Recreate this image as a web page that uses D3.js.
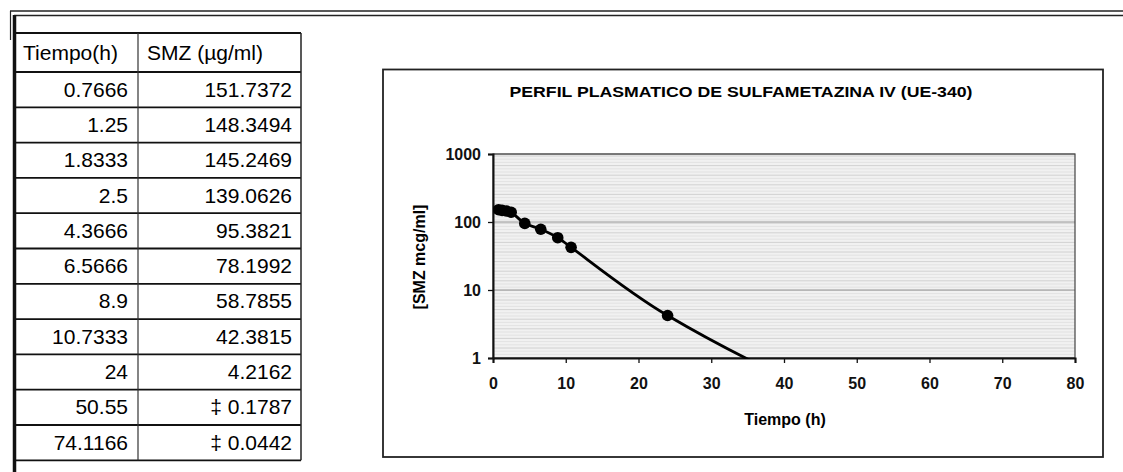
<!DOCTYPE html>
<html><head><meta charset="utf-8">
<script src="https://cdn.jsdelivr.net/npm/d3@7"></script>
<style>body{margin:0;background:#fff}svg{display:block}text{font-family:"Liberation Sans",Arial,sans-serif}</style>
</head><body>
<svg id="c" width="1123" height="472"></svg>
<script>
const tiempo = [0.7666, 1.25, 1.8333, 2.5, 4.3666, 6.5666, 8.9, 10.7333, 24, 50.55, 74.1166];
const smz = [151.7372, 148.3494, 145.2469, 139.0626, 95.3821, 78.1992, 58.7855, 42.3815, 4.2162, 0.1787, 0.0442];
const bajoLimite = [false, false, false, false, false, false, false, false, false, true, true];
const headers = ["Tiempo(h)", "SMZ (\u00b5g/ml)"];
const xTicks = [0, 10, 20, 30, 40, 50, 60, 70, 80];
const yTicks = [1, 10, 100, 1000];
const title = "PERFIL PLASMATICO DE SULFAMETAZINA IV (UE-340)";
const xTitle = "Tiempo (h)";
const yTitle = "[SMZ mcg/ml]";

const svg = d3.select("#c");

// page frame
svg.append("line").attr("x1",10).attr("x2",1123).attr("y1",11).attr("y2",11).attr("stroke","#222").attr("stroke-width",1.5);
svg.append("line").attr("x1",14).attr("x2",1123).attr("y1",15.5).attr("y2",15.5).attr("stroke","#222").attr("stroke-width",1.5);
svg.append("line").attr("x1",10.5).attr("x2",10.5).attr("y1",11).attr("y2",40).attr("stroke","#222").attr("stroke-width",1.2);
svg.append("line").attr("x1",14.5).attr("x2",14.5).attr("y1",15).attr("y2",472).attr("stroke","#111").attr("stroke-width",3.5);

// table
const tL = 14, tM = 138, tR = 301, hTop = 33, hBot = 72, rowH = 35.3;
const rows = d3.range(tiempo.length);
const rowY = i => hBot + i*rowH;
const tg = svg.append("g");
tg.append("line").attr("x1",tL).attr("x2",tR).attr("y1",hTop).attr("y2",hTop).attr("stroke","#111").attr("stroke-width",1.8);
tg.selectAll("line.h").data(d3.range(tiempo.length+1)).join("line").attr("class","h")
  .attr("x1",tL).attr("x2",tR).attr("y1",i=>rowY(i)).attr("y2",i=>rowY(i)).attr("stroke","#111").attr("stroke-width",1.8);
tg.append("line").attr("x1",tM).attr("x2",tM).attr("y1",hTop).attr("y2",rowY(tiempo.length)).attr("stroke","#333").attr("stroke-width",1.2);
tg.append("line").attr("x1",tR).attr("x2",tR).attr("y1",hTop).attr("y2",rowY(tiempo.length)).attr("stroke","#222").attr("stroke-width",1.5);
tg.append("text").attr("x",23).attr("y",(hTop+hBot)/2+7).attr("font-size",21).text(headers[0]);
tg.append("text").attr("x",147).attr("y",(hTop+hBot)/2+7).attr("font-size",21).text(headers[1]);
tg.selectAll("text.t").data(rows).join("text").attr("class","t")
  .attr("x",128).attr("y",i=>rowY(i)+rowH/2+7).attr("text-anchor","end").attr("font-size",21)
  .text(i=>String(tiempo[i]));
tg.selectAll("text.s").data(rows).join("text").attr("class","s")
  .attr("x",292).attr("y",i=>rowY(i)+rowH/2+7).attr("text-anchor","end").attr("font-size",21)
  .text(i=>(bajoLimite[i] ? "\u2021 " : "") + String(smz[i]));

// chart frame
svg.append("rect").attr("x",383).attr("y",69.5).attr("width",720).attr("height",387.5)
  .attr("fill","#fff").attr("stroke","#222").attr("stroke-width",1.8);

const x = d3.scaleLinear().domain([0,80]).range([493,1075]);
const y = d3.scaleLog().domain([1,1000]).range([358,154]);

// plot area background (grey streaks)
const pa = svg.append("g");
pa.append("rect").attr("x",x(0)).attr("y",y(1000)).attr("width",x(80)-x(0)).attr("height",y(1)-y(1000)).attr("fill","#f1f1f1");
const streaks = d3.range(y(1000)+2, y(1)-1, 3.2);
pa.selectAll("line").data(streaks).join("line")
  .attr("x1",x(0)).attr("x2",x(80)).attr("y1",d=>d).attr("y2",d=>d)
  .attr("stroke",(d,i)=> i%3===0 ? "#c9c9c9" : "#dedede").attr("stroke-width",0.8);
pa.selectAll("line.g").data(yTicks).join("line").attr("class","g")
  .attr("x1",x(0)).attr("x2",x(80)).attr("y1",d=>y(d)).attr("y2",d=>y(d)).attr("stroke","#999").attr("stroke-width",1);
pa.append("rect").attr("x",x(0)).attr("y",y(1000)).attr("width",x(80)-x(0)).attr("height",y(1)-y(1000))
  .attr("fill","none").attr("stroke","#444").attr("stroke-width",1.2);

// axes
const xa = svg.append("g").attr("transform",`translate(0,${y(1)})`)
  .call(d3.axisBottom(x).tickValues(xTicks).tickSize(5).tickPadding(15).tickFormat(d3.format("d")));
const ya = svg.append("g").attr("transform",`translate(${x(0)},0)`)
  .call(d3.axisLeft(y).tickValues(yTicks).tickSize(5).tickPadding(7).tickFormat(d3.format("d")));
[xa,ya].forEach(a=>{
  a.select(".domain").attr("stroke","#111").attr("stroke-width",2);
  a.selectAll(".tick line").attr("stroke","#111").attr("stroke-width",1.3);
  a.selectAll(".tick text").attr("font-size",16).attr("font-weight","bold").attr("fill","#111")
   .attr("font-family","'Liberation Sans',Arial,sans-serif");
});

// clip
svg.append("clipPath").attr("id","clp").append("rect")
  .attr("x",x(0)).attr("y",y(1000)).attr("width",x(80)-x(0)).attr("height",y(1)-y(1000)+1);

const pts = tiempo.map((t,i)=>[t,smz[i]]);
svg.append("path").datum(pts).attr("clip-path","url(#clp)")
  .attr("d", d3.line().x(d=>x(d[0])).y(d=>y(d[1])).curve(d3.curveCatmullRom.alpha(0.5)))
  .attr("fill","none").attr("stroke","#000").attr("stroke-width",2.8);
svg.append("g").attr("clip-path","url(#clp)").selectAll("circle").data(pts).join("circle")
  .attr("cx",d=>x(d[0])).attr("cy",d=>y(d[1])).attr("r",5.8).attr("fill","#000");

// titles
svg.append("text").attr("x",741).attr("y",97).attr("text-anchor","middle").attr("font-size",15).attr("font-weight","bold")
  .attr("textLength",463).attr("lengthAdjust","spacingAndGlyphs").text(title);
svg.append("text").attr("x",785).attr("y",425).attr("text-anchor","middle").attr("font-size",16).attr("font-weight","bold").text(xTitle);
svg.append("text").attr("transform","translate(425,257) rotate(-90)").attr("text-anchor","middle").attr("font-size",16).attr("font-weight","bold").text(yTitle);
</script>
</body></html>
